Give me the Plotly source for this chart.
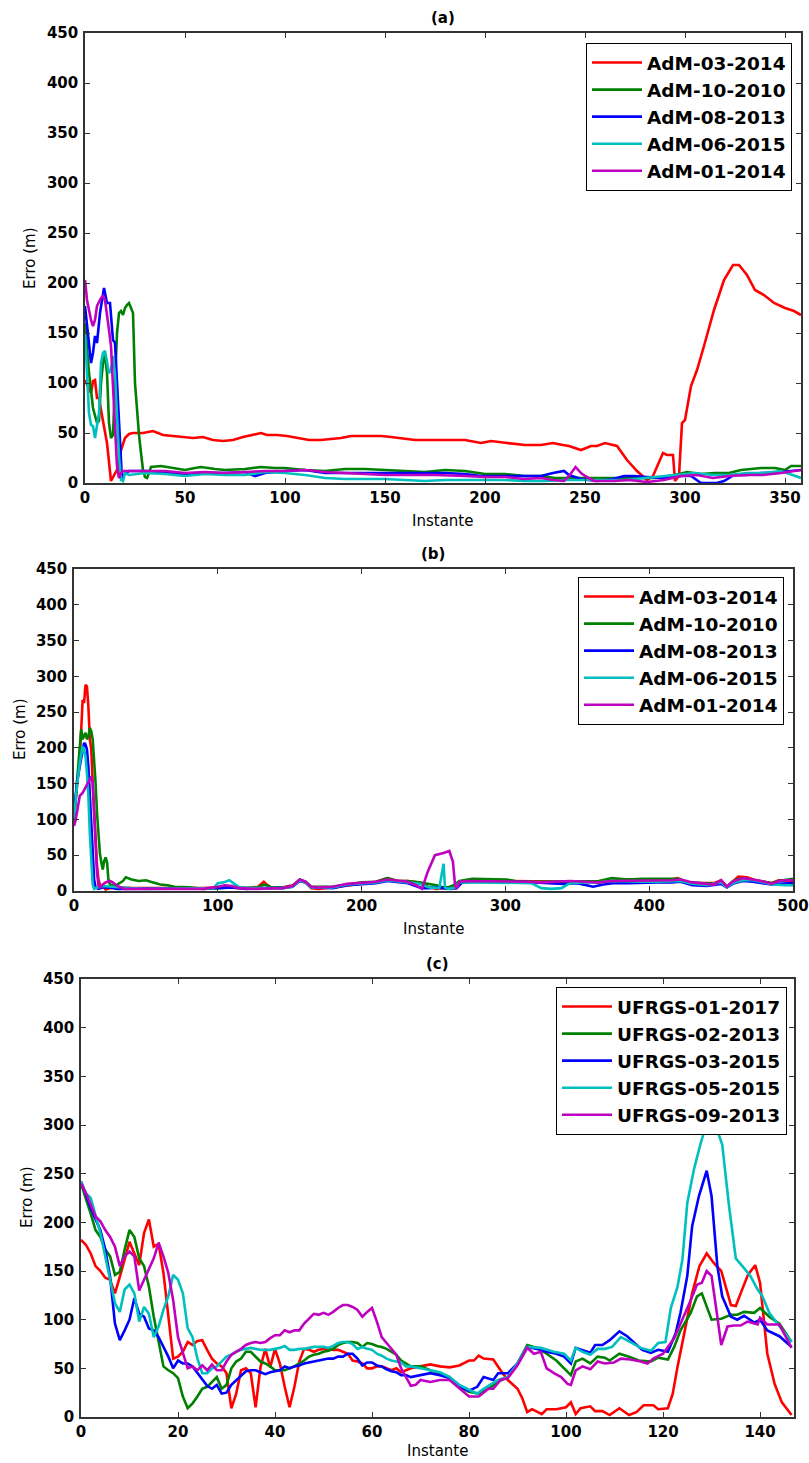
import plotly.graph_objects as go

# ---------------- panel (a): AdM sequences ----------------
a_names = ["AdM-03-2014", "AdM-10-2010", "AdM-08-2013", "AdM-06-2015", "AdM-01-2014"]

a_adm_03_2014 = [(0,103),(2,93),(3,90),(4,102),(5,103),(6,85),(7,85),(8,73),(11,40),(13,2),(15,10),(17,17),(18,33),(20,45),(22,49),(24,50),(29,50),(34,52),(39,48),(44,47),(50,46),(54,45),(59,46),(64,43),(69,42),(74,43),(79,46),(84,48),(88,50),(91,48),(96,48),(101,47),(107,45),(112,43),(118,43),(123,44),(128,45),(133,47),(138,47),(143,47),(148,47),(153,46),(158,45),(165,43),(173,43),(181,43),(190,43),(198,40),(203,42),(211,40),(220,38),(228,38),(234,40),(239,38),(242,37),(248,33),(253,37),(256,37),(260,40),(266,37),(271,23),(276,12),(279,7),(281,3),(284,7),(287,20),(289,30),(291,28),(294,28),(295,2),(297,7),(298.5,60),(300,63),(303,97),(306,113),(309.5,137),(314.5,173),(319.5,203),(324,218),(327,218),(331,208),(335,193),(339.5,188),(344.5,180),(350,175),(354.5,172),(358,168)]
a_adm_10_2010 = [(0,160),(2,110),(4,75),(6,60),(7,62),(8,100),(9,120),(10,128),(11,110),(12,60),(13,45),(14,48),(15,100),(16,150),(17,170),(18,172),(19,168),(20,175),(21,178),(22,180),(23,175),(24,170),(25,100),(26,70),(27,48),(28,30),(29,13),(30,6),(31,5),(32,10),(33,16),(38,17),(45,15),(50,13),(55,15),(58,16),(65,14),(70,13),(80,14),(88,16),(95,15),(100,15),(110,13),(120,12),(130,14),(140,14),(150,13),(160,12),(170,11),(180,13),(190,12),(200,9),(210,9),(220,7),(228,7),(235,5),(245,5),(255,5),(265,5),(275,5),(285,5),(295,8),(301,11),(308,9),(315,10),(322,10),(328,13),(338,15),(345,15),(350,13),(353,17),(358,17)]
a_adm_08_2013 = [(0,177),(1.5,150),(3,120),(4,130),(5,147),(6,140),(7.5,170),(9.5,195),(11,180),(12.5,180),(14,143),(15,140),(16,103),(17,53),(18.5,3),(20,10),(22,12),(30,12),(40,11),(50,8),(60,10),(70,10),(80,11),(85,7),(90,10),(100,12),(110,13),(120,10),(130,10),(140,10),(150,10),(160,10),(170,10),(180,10),(190,9),(198,7),(210,7),(218,7),(228,7),(234,10),(239.5,12),(242,8),(248,4),(256,2),(264,4),(269.5,7),(274.5,7),(281,6),(289.5,5),(298,7),(303,7),(308,0),(316,0),(319.5,2),(324.5,8),(331,8),(338,10),(348,11),(358,13)]
a_adm_06_2015 = [(0,150),(1,107),(2,70),(3,58),(4,57),(5,45),(6,57),(7,70),(8,120),(9,130),(10,132),(11,122),(12,110),(13,113),(14,127),(15,110),(16,70),(17,27),(18,3),(19,2),(20,10),(22,8),(30,10),(40,9),(50,7),(60,9),(70,8),(80,8),(90,11),(100,10),(110,8),(120,5),(130,4),(140,4),(150,4),(160,3),(170,2),(180,3),(190,3),(200,3),(210,3),(220,2),(230,2),(240,3),(250,3),(260,3),(270,3),(280,5),(290,7),(298,8),(305,10),(314,8),(322,8),(331,10),(339,10),(348,12),(354,8),(358,5)]
a_adm_01_2014 = [(0,203),(1,183),(3,163),(4,157),(5,163),(6,177),(8,185),(9,187),(10,183),(11,170),(12,153),(13,137),(14,97),(15,50),(16,17),(17,5),(18,10),(19,12),(20,12),(30,12),(40,12),(50,10),(60,11),(70,10),(80,11),(90,12),(100,12),(110,13),(120,11),(130,10),(140,9),(150,8),(160,8),(175,8),(190,7),(200,6),(210,6),(219.5,4),(228,5),(234,3),(239.5,2),(242,7),(245.3,16),(248,10),(250,7),(254.5,2),(264.5,2),(272,3),(281,1),(289.5,3),(298,7),(306,8),(314,5),(322,7),(331,8),(339,8),(348,10),(358,13)]

# ---------------- panel (b): AdM sequences, second run ----------------
b_adm_03_2014 = [(0,100),(2,146),(4,188),(5,225),(6,267),(7,263),(8,288),(9,286),(10,258),(11,212),(12,198),(13,151),(14,105),(15,63),(16,35),(17,16),(18,9),(20,7),(22,2),(25,4),(30,5),(40,4),(50,4),(60,3),(70,3),(80,4),(90,4),(100,5),(110,5),(120,4),(128,6),(132,13),(134,9),(137,5),(145,5),(152,8),(157,15),(161,12),(165,4),(170,3),(180,5),(190,8),(200,11),(210,13),(218,18),(225,14),(232,14),(240,12),(246,6),(252,3),(257,4),(260,4),(264,6),(266,5),(268,12),(275,14),(285,14),(295,14),(305,14),(315,13),(325,13),(335,14),(345,14),(355,13),(365,12),(375,14),(385,16),(395,15),(405,16),(412,15),(420,18),(426,12),(435,11),(445,11),(450,15),(454,6),(458,13),(462,20),(468,19),(474,15),(480,13),(485,11),(490,15),(495,15),(500,14)]
b_adm_10_2010 = [(0,100),(2,156),(4,212),(5,226),(6,212),(7,216),(8,221),(9,212),(10,216),(11,228),(12,223),(13,212),(14,184),(15,151),(16,109),(17,77),(18,53),(19,40),(20,30),(21,42),(22,47),(23,40),(24,14),(25,9),(28,7),(30,9),(34,14),(36,19),(40,16),(45,14),(50,15),(55,12),(60,9),(65,8),(70,6),(80,5),(90,3),(100,4),(110,5),(120,4),(128,5),(132,9),(134,8),(137,5),(145,5),(152,7),(157,16),(161,13),(165,6),(170,6),(180,6),(190,9),(200,12),(210,13),(218,18),(225,14),(232,14),(240,12),(246,10),(252,8),(257,5),(260,5),(264,8),(268,14),(277,17),(285,17),(295,17),(301,16),(307,14),(315,13),(325,13),(335,13),(345,14),(355,14),(365,14),(374,18),(385,16),(395,17),(405,17),(412,16),(420,17),(426,12),(435,11),(445,10),(450,14),(454,6),(458,13),(462,17),(468,17),(474,13),(480,13),(485,11),(490,14),(495,16),(500,17)]
b_adm_08_2013 = [(0,105),(2,151),(4,174),(6,198),(7,207),(8,205),(9,198),(10,174),(11,137),(12,95),(13,53),(14,16),(15,5),(17,3),(20,5),(25,5),(30,3),(40,3),(50,3),(60,3),(70,3),(80,3),(90,3),(100,4),(110,5),(120,3),(130,4),(137,4),(145,4),(152,6),(157,14),(161,12),(165,5),(170,5),(180,4),(190,8),(200,10),(210,11),(218,14),(225,12),(232,11),(236,8),(242,4),(247,4),(252,5),(257,4),(262,3),(266,4),(270,12),(280,13),(290,12),(300,12),(310,13),(320,12),(330,11),(340,10),(350,11),(361,6),(368,9),(375,11),(385,11),(395,12),(405,12),(415,12),(422,13),(430,8),(440,7),(450,10),(454,5),(458,10),(465,14),(472,13),(480,11),(485,9),(490,10),(495,11),(500,11)]
b_adm_06_2015 = [(0,100),(2,146),(4,179),(6,202),(7,198),(8,188),(9,165),(10,133),(11,81),(12,35),(13,9),(14,3),(16,5),(20,7),(30,5),(40,4),(50,3),(60,3),(70,3),(80,4),(90,4),(97,4),(100,11),(104,12),(108,15),(111,11),(115,5),(125,4),(135,4),(145,4),(152,6),(157,15),(161,12),(165,5),(170,5),(180,5),(190,9),(200,11),(210,12),(218,15),(225,13),(232,12),(240,10),(247,5),(254,4),(257,38),(258,5),(260,3),(264,4),(268,12),(280,12),(290,12),(300,12),(310,12),(318,11),(325,4),(332,3),(339,4),(345,11),(355,12),(365,12),(375,14),(385,13),(395,13),(405,13),(415,14),(422,14),(430,10),(440,8),(450,12),(454,5),(458,11),(465,15),(472,15),(480,12),(485,9),(490,8),(495,8),(500,8)]
b_adm_01_2014 = [(0,91),(1,98),(2,109),(3,123),(4,133),(6,137),(8,144),(10,151),(12,160),(13,151),(14,109),(15,63),(16,26),(17,8),(18,5),(20,9),(22,12),(25,14),(27,12),(30,7),(35,3),(40,3),(50,3),(60,3),(70,3),(80,3),(90,3),(100,6),(105,8),(110,7),(115,4),(125,3),(135,4),(145,4),(152,7),(157,16),(161,13),(165,6),(170,5),(180,6),(190,10),(200,12),(210,13),(218,16),(225,14),(232,13),(238,8),(242,3),(246,27),(251,50),(257,53),(261,56),(263.5,41),(265,8),(266,3),(268,13),(275,14),(285,14),(295,14),(305,14),(315,13),(325,12),(335,13),(345,14),(355,13),(365,12),(375,14),(385,14),(395,15),(405,14),(415,15),(422,16),(430,12),(440,10),(445,9),(450,15),(454,6),(458,13),(465,18),(472,16),(480,13),(485,10),(490,14),(495,15),(500,15)]

# ---------------- panel (c): UFRGS sequences ----------------
c_names = ["UFRGS-01-2017", "UFRGS-02-2013", "UFRGS-03-2015", "UFRGS-05-2015", "UFRGS-09-2013"]

c_ufrgs_01_2017 = [(0,182),(1,177),(2,168),(3,155),(4,150),(5,143),(6,141),(7,127),(8,144),(9,161),(10,180),(11,168),(12,156),(13,189),(14,203),(15,175),(16,178),(17,148),(18,106),(19,60),(20,62),(21,67),(22,77),(23,74),(24,78),(25,79),(26,69),(27,60),(28,55),(29,52),(30,45),(31,9),(32,24),(33,48),(34,50),(35,45),(36,10),(37,51),(38,70),(39,51),(40,70),(41,55),(42,31),(43,10),(44,31),(45,57),(46,70),(47,69),(48,67),(49,69),(50,70),(51,70),(52,69),(53,69),(54,67),(55,65),(56,58),(57,57),(58,55),(59,50),(60,50),(61,52),(62,52),(63,50),(64,48),(65,50),(66,46),(67,48),(68,50),(70,52),(72,54),(74,52),(76,51),(78,53),(80,58),(81,58),(82,63),(83,60),(85,59),(86.5,48),(88,38),(90,29),(91,19),(92,5),(93,8),(95,3),(96,8),(98,8),(100,10),(101,15),(102,3),(103,9),(105,11),(106,6),(107.5,6),(109,2),(111,9),(113,2),(114.5,5),(116,12),(118,12),(119,8),(121,9),(122,24),(123,52),(124.5,89),(126,127),(127.5,155),(129,168),(130.5,158),(132,150),(134,115),(135,114),(136,127),(137.5,146),(139,156),(140,138),(141.5,65),(143,34),(144.5,15),(146.5,2)]
c_ufrgs_02_2013 = [(0,240),(1,225),(2,209),(3,192),(4,185),(5,172),(6,165),(7,146),(8,149),(9,172),(10,192),(11,185),(12,163),(13,155),(14,134),(15,103),(16,76),(17,52),(18,48),(19,45),(20,40),(21,21),(22,9),(23,14),(24,21),(25,29),(26,31),(27,36),(28,41),(29,29),(30,33),(31,50),(32,57),(33,60),(34,67),(35,67),(36,62),(37,57),(38,55),(39,52),(40,48),(41,48),(42,48),(43,50),(44,52),(45,55),(46,58),(47,62),(48,64),(49,65),(50,67),(51,68),(52,70),(53,74),(54,76),(55,77),(56,77),(57,76),(58,72),(59,76),(60,75),(61,73),(62,72),(63,70),(64,67),(65,64),(66,58),(67,55),(68,52),(70,52),(72,48),(74,45),(76,41),(78,31),(80,26),(82,24),(84,29),(86,36),(88,41),(90,55),(92,74),(94,71),(96,65),(98,58),(100,48),(101,43),(102,57),(103.4,60),(105,55),(106.5,62),(108,61),(109,58),(111,65),(113,62),(115,58),(117.5,57),(119,61),(121,59),(122.3,72),(123.6,89),(125.7,107),(127,124),(128,127),(130,100),(132,101),(134,105),(135.3,105),(136.7,108),(138.8,107),(140,112),(141.9,103),(144,96),(146.5,77)]
c_ufrgs_03_2015 = [(0,242),(1,228),(2,215),(3,203),(4,192),(5,172),(6,144),(7,96),(8,79),(9,89),(10,100),(11,122),(12,106),(13,103),(14,91),(15,89),(16,82),(17,72),(18,62),(19,50),(20,58),(21,55),(22,55),(23,52),(24,45),(25,38),(26,32),(27,29),(28,33),(29,24),(30,25),(31,33),(32,38),(33,43),(34,47),(35,48),(36,48),(37,46),(38,44),(39,46),(40,47),(41,48),(42,52),(43,50),(44,52),(45,53),(46,55),(47,56),(48,57),(49,58),(50,59),(51,60),(52,60),(53,62),(54,62),(55,65),(56,65),(57,60),(58,53),(59,56),(60,56),(61,53),(62,52),(63,49),(64,47),(65,46),(66,43),(67,43),(68,41),(70,43),(72,45),(74,43),(76,40),(78,31),(80,27),(81.7,31),(83,41),(85,38),(86,45),(88,45),(90,55),(92,72),(94,70),(96,67),(98,65),(99.6,62),(101,55),(102,71),(103.4,69),(105,66),(106,74),(107.5,74),(109,79),(111,88),(112.6,83),(114,77),(115.7,69),(117.5,66),(119,69),(121,67),(122.6,86),(123.6,107),(125,145),(126,196),(127.4,227),(129,253),(130,227),(131.2,155),(132.2,124),(134,103),(135.3,100),(136.7,104),(138.8,97),(140,100),(141.5,89),(144,83),(146.5,72)]
c_ufrgs_05_2015 = [(0,242),(1,230),(2,225),(3,208),(4,189),(5,165),(6,141),(7,117),(8,108),(9,131),(10,136),(11,127),(12,98),(13,113),(14,106),(15,82),(16,93),(17,110),(18,124),(19,146),(20,141),(21,127),(22,91),(23,82),(24,60),(25,45),(26,45),(27,50),(28,52),(29,57),(30,62),(31,64),(32,67),(33,69),(34,70),(35,71),(36,70),(37,69),(38,69),(39,69),(40,70),(41,71),(42,73),(43,69),(44,69),(45,70),(46,70),(47,71),(48,72),(49,72),(50,72),(51,71),(52,73),(53,76),(54,77),(55,77),(56,75),(57,70),(58,72),(59,70),(60,69),(61,65),(62,63),(63,60),(64,58),(65,57),(66,56),(67,52),(68,52),(70,50),(72,48),(74,46),(76,41),(78,33),(80,28),(81.7,24),(83,29),(86,38),(88,41),(90,55),(92,72),(94.8,71),(97.5,67),(99.6,65),(101,58),(102,71),(103.4,67),(105,64),(106.5,70),(108,70),(109.5,72),(111.3,82),(113.3,77),(115.4,71),(117.5,68),(119,76),(120.5,77),(121.6,112),(123,134),(124,162),(125,220),(126.4,255),(127.8,282),(129,302),(130.8,300),(132.2,280),(133.6,217),(135,163),(136.7,153),(138,145),(139.5,131),(140.5,124),(141.9,107),(143.6,96),(146.5,77)]
c_ufrgs_09_2013 = [(0,240),(1,230),(2,218),(3,206),(4,201),(5,192),(6,185),(7,175),(8,155),(9,165),(10,170),(11,165),(12,130),(13,141),(14,153),(15,163),(16,179),(17,165),(18,148),(19,120),(20,82),(21,65),(22,50),(23,52),(24,48),(25,53),(26,48),(27,54),(28,48),(29,48),(30,57),(31,64),(32,67),(33,70),(34,74),(35,76),(36,77),(37,76),(38,77),(39,81),(40,84),(41,84),(42,89),(43,87),(44,89),(45,89),(46,96),(47,101),(48,106),(49,105),(50,107),(51,105),(52,108),(53,112),(54,115),(55,115),(56,113),(57,110),(58,103),(59,108),(60,112),(61,98),(62,82),(63,76),(64,70),(65,64),(66,50),(67,41),(68,32),(69,33),(70,38),(72,36),(74,38),(76,38),(78,29),(80,21),(82,21),(84,29),(85,29),(86.5,38),(88,40),(90,53),(92,71),(93.4,65),(94.8,67),(96,50),(97.5,45),(99,41),(100.3,34),(101,33),(102,48),(103.4,52),(105,49),(106.5,57),(108,55),(109.9,56),(111.3,60),(113.3,59),(115.4,57),(116.8,55),(118,60),(120,65),(122.3,81),(124,100),(125.7,120),(127,136),(128,138),(129,150),(130,145),(131,110),(132,74),(133.3,93),(134.6,94),(136,94),(137.4,98),(139.5,95),(140,102),(141.5,95),(144,95),(146.5,71)]

y_ticks = [0, 50, 100, 150, 200, 250, 300, 350, 400, 450]
colors = ["#ff0000", "#008000", "#0000ff", "#00bfbf", "#bf00bf"]

W, H = 809, 1463
FONT = "DejaVu Sans"


def px_x(p):
    return p / W


def px_y(p):
    return 1 - p / H


panels = [
    dict(key="", title="(a)", names=a_names,
         series=[a_adm_03_2014, a_adm_10_2010, a_adm_08_2013, a_adm_06_2015, a_adm_01_2014],
         box=(85, 801, 33, 483), xrange=[0, 358], dtick=50,
         legend=(792, 43), xlab_y=521, ylab_x=30),
    dict(key="2", title="(b)", names=a_names,
         series=[b_adm_03_2014, b_adm_10_2010, b_adm_08_2013, b_adm_06_2015, b_adm_01_2014],
         box=(74, 793, 569, 891), xrange=[0, 500], dtick=100,
         legend=(784, 577), xlab_y=929, ylab_x=20),
    dict(key="3", title="(c)", names=c_names,
         series=[c_ufrgs_01_2017, c_ufrgs_02_2013, c_ufrgs_03_2015, c_ufrgs_05_2015, c_ufrgs_09_2013],
         box=(81, 794, 979, 1417), xrange=[0, 147], dtick=20,
         legend=(787, 987), xlab_y=1451, ylab_x=27),
]

fig = go.Figure()
annotations = []
layout = {}

for p in panels:
    k = p["key"]
    for name, pts, col in zip(p["names"], p["series"], colors):
        fig.add_trace(go.Scatter(
            x=[q[0] for q in pts], y=[q[1] for q in pts],
            mode="lines", name=name,
            line=dict(color=col, width=2.6),
            xaxis="x" + k, yaxis="y" + k,
            legend="legend" + k,
        ))
    l, r, t, b = p["box"]
    axis_common = dict(
        showline=True, linecolor="#333333", linewidth=1.5, mirror="allticks",
        ticks="inside", ticklen=5, tickwidth=1, tickcolor="#333333",
        showgrid=False, zeroline=False, automargin=False,
        tickfont=dict(family=FONT, size=15, color="black", weight="bold"),
    )
    layout["xaxis" + k] = dict(
        domain=[px_x(l), px_x(r)], anchor="y" + k, range=p["xrange"],
        tick0=0, dtick=p["dtick"], **axis_common)
    layout["yaxis" + k] = dict(
        domain=[px_y(b), px_y(t)], anchor="x" + k, range=[0, 450],
        tickvals=y_ticks, ticklabelstandoff=2, **axis_common)
    lx, ly = p["legend"]
    layout["legend" + k] = dict(
        x=px_x(lx), y=px_y(ly), xanchor="right", yanchor="top",
        bgcolor="white", bordercolor="black", borderwidth=1,
        font=dict(family=FONT, size=18.5, color="black", weight="bold"),
        itemwidth=50, tracegroupgap=0,
    )
    cx = (l + r) / 2
    centred = dict(xref="paper", yref="paper", xanchor="center", yanchor="middle", showarrow=False)
    annotations.append(dict(text=p["title"], x=px_x(cx), y=px_y(t - 15), **centred,
                            font=dict(family=FONT, size=15, color="black", weight="bold")))
    annotations.append(dict(text="Instante", x=px_x(cx), y=px_y(p["xlab_y"]), **centred,
                            font=dict(family=FONT, size=15, color="black")))
    annotations.append(dict(text="Erro (m)", x=px_x(p["ylab_x"]), y=px_y((t + b) / 2), **centred,
                            textangle=-90, font=dict(family=FONT, size=15, color="black")))

fig.update_layout(
    width=W, height=H, margin=dict(l=0, r=0, t=0, b=0, autoexpand=False),
    paper_bgcolor="white", plot_bgcolor="white",
    annotations=annotations, **layout,
)

fig.write_html("out.html")
